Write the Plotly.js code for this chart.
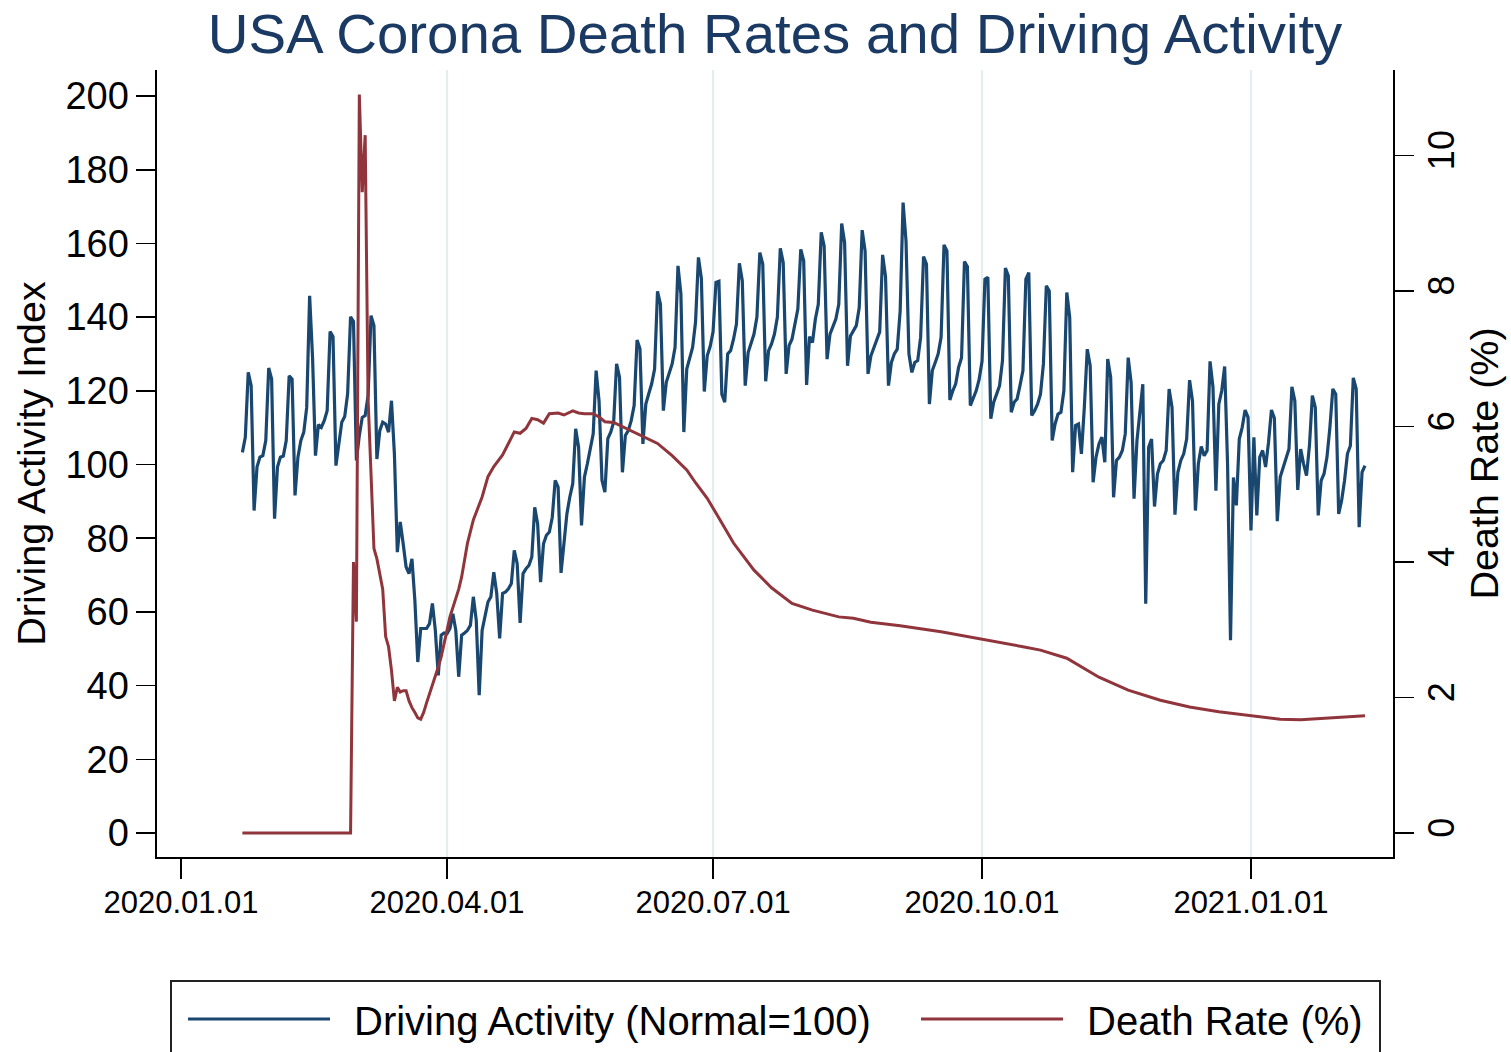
<!DOCTYPE html>
<html>
<head>
<meta charset="utf-8">
<script src="https://cdn.plot.ly/plotly-3.0.1.min.js"></script>
<style>
html,body{margin:0;padding:0;background:#fff;}
#chart{width:1511px;height:1052px;}
</style>
</head>
<body>
<div id="chart"></div>
<script>
// ---- data ----
const seriesStart = '2020-01-22';   // first daily observation

// Driving activity index, one value per day from 2020-01-22 to 2021-02-09
const driving = [
  103.3,107.4,125.0,121.4,87.5,99.3,102.0,
  102.4,106.5,126.2,123.2,85.3,99.3,102.0,
  102.3,106.5,124.1,123.2,91.6,102.0,106.5,
  108.8,115.5,145.8,129.1,102.4,110.8,110.1,
  111.9,114.6,136.1,134.7,99.7,106.3,111.5,
  113.0,119.2,140.1,138.8,101.1,107.9,112.8,
  113.3,118.7,140.4,137.7,101.5,109.2,111.5,
  111.0,108.8,117.3,102.9,76.2,84.4,78.5,
  72.2,70.4,74.4,63.1,46.4,55.5,55.5,
  55.5,56.8,62.3,55.0,42.8,53.7,54.3,
  54.1,55.5,59.5,55.0,42.4,53.7,54.3,
  55.0,56.4,64.1,57.7,37.4,55.0,58.6,
  62.7,64.1,70.8,65.0,52.8,65.0,65.4,
  66.3,67.7,76.7,73.1,57.0,70.4,71.7,
  72.6,74.9,88.4,83.9,68.1,78.5,80.8,
  81.7,85.7,95.7,93.9,70.6,78.5,86.6,
  91.2,94.8,109.7,104.7,83.5,96.6,100.2,
  103.8,108.3,125.5,117.3,95.7,92.5,107.0,
  108.8,111.5,127.3,123.7,97.9,107.9,109.2,
  111.9,116.0,133.8,131.4,105.6,116.4,119.2,
  121.9,125.9,147.0,143.5,114.6,122.3,124.6,
  127.3,131.8,153.9,146.3,108.8,125.9,128.6,
  131.8,138.6,156.2,150.5,119.8,129.5,132.0,
  136.0,149.4,149.7,119.1,116.9,130.0,130.9,
  134.0,138.1,154.6,149.9,121.4,130.4,132.7,
  135.4,140.0,157.5,154.4,122.6,130.9,132.7,
  135.4,140.0,158.7,154.8,124.6,132.3,134.0,
  138.1,142.2,158.4,155.3,121.6,134.7,133.1,
  139.5,143.5,163.0,159.3,128.6,135.4,137.2,
  139.5,143.5,165.4,160.2,126.8,134.9,136.3,
  137.7,142.6,163.6,158.0,124.6,129.5,131.8,
  134.0,136.0,156.9,151.0,121.4,127.7,130.0,
  131.3,141.7,171.1,160.7,130.0,125.0,127.7,
  128.2,134.5,156.4,154.4,116.4,125.5,127.7,
  130.0,134.5,159.6,158.0,117.5,120.0,121.9,
  126.4,129.0,155.1,153.7,116.0,118.2,120.0,
  123.0,128.0,150.3,150.8,112.4,116.9,119.1,
  121.4,128.2,153.3,151.2,114.2,116.9,117.8,
  121.5,125.5,150.3,152.1,113.3,114.6,116.4,
  119.1,127.3,148.5,147.1,106.5,111.0,113.7,
  114.2,120.0,146.7,139.9,97.9,110.6,111.0,
  102.9,115.5,131.3,126.8,95.2,102.0,105.6,
  107.4,100.6,128.6,123.7,91.1,101.1,102.0,
  103.8,108.3,129.0,122.3,90.7,106.5,113.7,
  121.8,62.2,104.7,106.9,88.6,97.4,100.2,
  101.1,103.8,120.5,115.5,86.4,97.9,101.1,
  102.9,106.9,122.9,117.3,87.5,100.2,104.9,
  102.4,103.8,128.0,121.0,92.9,116.4,120.0,
  126.6,100.0,52.3,96.5,88.9,106.9,110.1,
  114.8,112.8,82.1,107.4,86.2,102.0,103.8,
  99.3,106.0,114.8,112.6,84.6,96.6,99.3,
  102.0,104.2,121.1,117.3,93.1,104.2,100.2,
  97.0,105.1,118.7,115.5,86.2,95.6,97.5,
  102.0,110.1,120.5,119.1,86.6,90.2,95.6,
  102.9,105.1,123.5,120.5,83.0,97.9,99.7
];

// Death rate (%) readings: day offset from seriesStart and value
const deathDay = [
  0,37,38,39,40,41,42,43,44,45,46,47,48,49,50,51,52,53,54,55,56,57,58,59,60,61,62,63,64,65,66,67,68,69,
  71,74,75,77,79,82,84,86,89,91,93,95,97,99,101,103,105,108,110,113,115,117,120,122,124,127,130,
  136,142,147,152,155,159,163,168,175,181,188,195,204,209,215,225,239,253,262,267,273,282,293,303,314,324,334,345,355,362,372,384
];
const deathRate = [
  0,0,4.0,3.12,10.9,9.46,10.3,6.4,5.3,4.2,4.05,3.8,3.6,2.9,2.75,2.4,1.95,2.15,2.08,2.1,2.1,1.95,1.85,1.78,1.7,1.68,1.78,1.92,2.05,2.2,2.3,2.45,2.6,2.8,
  3.19,3.6,3.78,4.28,4.62,4.96,5.26,5.41,5.58,5.75,5.92,5.9,5.97,6.12,6.1,6.05,6.19,6.2,6.17,6.23,6.2,6.19,6.19,6.14,6.07,6.06,6.0,
  5.87,5.75,5.57,5.36,5.17,4.94,4.65,4.28,3.88,3.62,3.39,3.29,3.19,3.17,3.11,3.06,2.97,2.86,2.8,2.75,2.7,2.58,2.3,2.11,1.96,1.86,1.79,1.73,1.68,1.67,1.70,1.73
];

const xTickVals = ['2020-01-01','2020-04-01','2020-07-01','2020-10-01','2021-01-01'];
const xTickText = ['2020.01.01','2020.04.01','2020.07.01','2020.10.01','2021.01.01'];
const gridDates = ['2020-04-01','2020-07-01','2020-10-01','2021-01-01'];
const yTicks = [0,20,40,60,80,100,120,140,160,180,200];
const y2Ticks = [0,2,4,6,8,10];
const seriesNames = ['Driving Activity (Normal=100)','Death Rate (%)'];
const seriesColors = ['#1a476f','#90353b'];

// ---- helpers ----
function dayToDate(d){
  const t = Date.parse(seriesStart + 'T00:00:00Z') + d*86400000;
  return new Date(t).toISOString().slice(0,10);
}
const drivingDates = driving.map((v,i)=>dayToDate(i));
const deathDates = deathDay.map(dayToDate);

const FONT = 'Liberation Sans, Arial, Helvetica, sans-serif';

const traces = [
  {x: drivingDates, y: driving, type:'scatter', mode:'lines', name: seriesNames[0],
   line:{color: seriesColors[0], width:3.2}, yaxis:'y', hoverinfo:'skip'},
  {x: deathDates, y: deathRate, type:'scatter', mode:'lines', name: seriesNames[1],
   line:{color: seriesColors[1], width:3}, yaxis:'y2', hoverinfo:'skip'}
];

// plot area in px: x 157..1393, y 70..857
const W = 1511, H = 1052, L = 157, R = 1393, T = 70, B = 857;
const px = X => (X - L)/(R - L);
const py = Y => (B - Y)/(B - T);

const shapes = gridDates.map(d => ({
  type:'line', xref:'x', yref:'paper', x0:d, x1:d, y0:0, y1:1,
  line:{color:'#e4edef', width:2.2}, layer:'below'
}));
// legend box and keys
shapes.push({type:'rect', xref:'paper', yref:'paper', x0:px(171), x1:px(1380), y0:py(981), y1:py(1075),
  line:{color:'#222', width:2}, fillcolor:'rgba(0,0,0,0)'});
shapes.push({type:'line', xref:'paper', yref:'paper', x0:px(188), x1:px(330), y0:py(1019), y1:py(1019),
  line:{color:seriesColors[0], width:3.2}});
shapes.push({type:'line', xref:'paper', yref:'paper', x0:px(921), x1:px(1063), y0:py(1019), y1:py(1019),
  line:{color:seriesColors[1], width:3.2}});

const annotations = [
  {xref:'paper', yref:'paper', x:px(352), y:py(1021), xanchor:'left', yanchor:'middle', showarrow:false,
   text: seriesNames[0], font:{family:FONT, size:40, color:'#000'}},
  {xref:'paper', yref:'paper', x:px(1085), y:py(1021), xanchor:'left', yanchor:'middle', showarrow:false,
   text: seriesNames[1], font:{family:FONT, size:40, color:'#000'}}
];

const layout = {
  width: W, height: H,
  margin:{l:L, r:W-R, t:T, b:H-B, pad:0},
  paper_bgcolor:'#fff', plot_bgcolor:'#fff',
  font:{family:FONT, color:'#000'},
  showlegend:false,
  title:{text:'USA Corona Death Rates and Driving Activity', x:0.5, xref:'paper', xanchor:'center',
         y:1-33/H, yref:'container', yanchor:'middle', font:{family:FONT, size:56.4, color:'#1a3a63'}},
  xaxis:{type:'date', range:['2019-12-23 19:00','2021-02-18 14:00'], tickvals:xTickVals, ticktext:xTickText,
         ticks:'outside', ticklen:20, tickwidth:1.6, tickcolor:'#000', showline:true, linecolor:'#000', linewidth:1.6,
         showgrid:false, zeroline:false, tickfont:{family:FONT, size:31, color:'#000'}, automargin:false, ticklabelstandoff:-3},
  yaxis:{range:[-6.51, 207.06], tickvals:yTicks, ticks:'outside', ticklen:19, tickwidth:1.6, tickcolor:'#000',
         showline:true, linecolor:'#000', linewidth:1.6, showgrid:false, zeroline:false,
         tickfont:{family:FONT, size:38, color:'#000'}, automargin:false, ticklabelstandoff:0,
         title:{text:'Driving Activity Index', font:{family:FONT, size:39.5, color:'#000'}, standoff:7}},
  yaxis2:{range:[-0.354, 11.262], tickvals:y2Ticks, overlaying:'y', side:'right', ticks:'outside', ticklen:19,
          tickwidth:1.6, tickcolor:'#000', showline:true, linecolor:'#000', linewidth:1.6, showgrid:false,
          zeroline:false, tickangle:-90, tickfont:{family:FONT, size:36, color:'#000'}, automargin:false,
          ticklabelstandoff:-3,
          title:{text:'Death Rate (%)', font:{family:FONT, size:39.5, color:'#000'}, standoff:8}},
  shapes: shapes,
  annotations: annotations
};

Plotly.newPlot('chart', traces, layout, {staticPlot:true, displayModeBar:false});
</script>
</body>
</html>
